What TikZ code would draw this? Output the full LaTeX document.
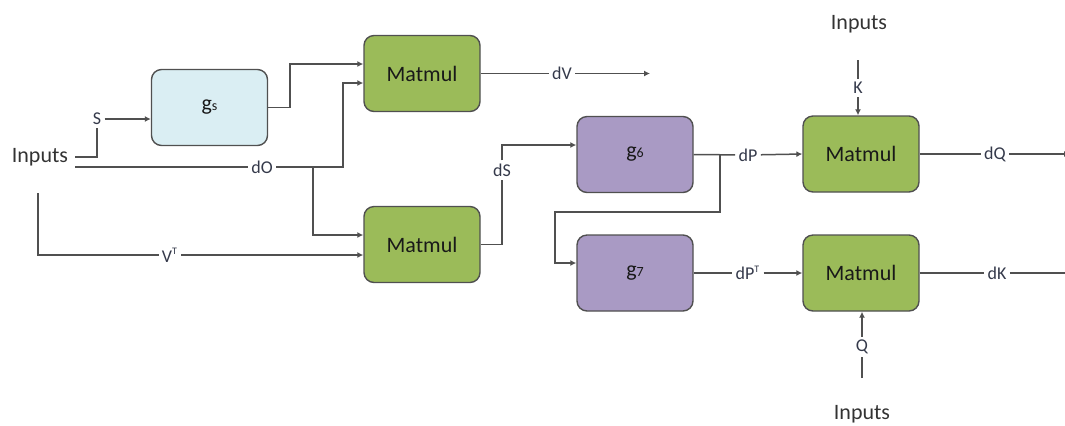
\documentclass[tikz,border=0pt]{standalone}
\usepackage{fontspec}
\setmainfont{Carlito}
\usepackage{xcolor}
\usetikzlibrary{arrows.meta, positioning}
\definecolor{mmgreen}{HTML}{9BBB59}
\definecolor{gpurple}{HTML}{A99AC4}
\definecolor{gblue}{HTML}{DAEEF3}
\definecolor{wire}{HTML}{505050}
\definecolor{lbl}{HTML}{34394A}

\begin{document}
\begin{tikzpicture}[x=0.5pt,y=-0.5pt,
op/.style={draw=wire, line width=0.7pt, rounded corners=5pt, minimum width=58pt, minimum height=38pt, font=\fontsize{11}{13}\selectfont, text=black!90},
matmul/.style={op, fill=mmgreen},
gfun/.style={op, fill=gpurple},
lab/.style={inner sep=1.5pt, text=lbl, font=\fontsize{9}{10}\selectfont},
inp/.style={inner sep=3.5pt, text=black!80, font=\fontsize{11}{13}\selectfont},
wires/.style={draw=wire, line width=0.75pt},
arr/.style={wires, -{Latex[length=3pt,width=3pt]}}]

\useasboundingbox (0,0) rectangle (1065,425);

% boxes
\node[op, fill=gblue] (g5) at (209.5,107.5) {g{\fontsize{7}{8}\selectfont s}};
\node[matmul] (mm1) at (422,73.5) {Matmul};
\node[matmul] (mm2) at (422,244.5) {Matmul};
\node[gfun] (g6) at (635,154.5) {g{\fontsize{7}{8}\selectfont 6}};
\node[gfun] (g7) at (635,273) {g{\fontsize{7}{8}\selectfont 7}};
\node[matmul] (mm3) at (861,154) {Matmul};
\node[matmul] (mm4) at (861,273) {Matmul};

% inputs
\node[inp] (inL) at (40,157) {Inputs};
\node[inp] (inT) at (859,24) {Inputs};
\node[inp] (inB) at (862,414) {Inputs};
\coordinate (inV) at (38,193);
\coordinate (cK) at (858,60);
\coordinate (cQ) at (862,378);

% labels on the wires
\node[lab] (lS) at (97,119) {S};
\node[lab] (lO) at (262,167) {dO};
\node[lab] (lVT) at (170,255) {V\textsuperscript{\fontsize{5}{6}\selectfont T}};
\node[lab] (ldV) at (562,73.5) {dV};
\node[lab] (ldS) at (502,170) {dS};
\node[lab] (ldP) at (748,155) {dP};
\node[lab] (ldPT) at (748,273) {dP\textsuperscript{\fontsize{5}{6}\selectfont T}};
\node[lab] (lK) at (858,88) {K};
\node[lab] (lQ) at (862,347) {Q};
\node[lab] (ldQ) at (995,154) {dQ};
\node[lab] (ldK) at (997,273) {dK};
\coordinate (jO) at (313,167);
\coordinate (jP) at (720,155);
\coordinate (eV) at (650,73.5);
\coordinate (eQ) at (1070,154);
\coordinate (eK) at (1075,273);

% left part
\draw[wires] (inL.east) -| (lS);
\draw[arr] (lS) -- (lS -| g5.west);
\draw[wires] ([yshift=-5pt]inL.east) -- (lO);
\draw[arr] (lO) -- (343,167) |- ([yshift=-4.75pt]mm1.west);
\draw[arr] (jO) |- ([yshift=4.75pt]mm2.west);
\draw[wires] (inV) |- (lVT);
\draw[arr] (lVT) -- ([yshift=-5.25pt]mm2.west);
\draw[arr] (g5.east) -- ++(22,0) |- ([yshift=4.75pt]mm1.west);
\draw[wires] (mm1.east) -- (ldV);
\draw[arr] (ldV) -- (eV);

% middle part
\draw[wires] (mm2.east) -| (ldS);
\draw[arr] (ldS) |- ([yshift=4.75pt]g6.west);
\draw[wires] (g6.east) -- (ldP);
\draw[arr] (ldP) -- (mm3.west);
\draw[arr] (jP) |- (555,212) |- ([yshift=5pt]g7.west);
\draw[wires] (g7.east) -- (ldPT);
\draw[arr] (ldPT) -- (mm4.west);

% right part
\draw[wires] (cK) -- (lK);
\draw[arr] (lK) -- (lK |- mm3.north);
\draw[wires] (cQ) -- (lQ);
\draw[arr] (lQ) -- (lQ |- mm4.south);
\draw[wires] (mm3.east) -- (ldQ);
\draw[arr] (ldQ) -- (eQ);
\draw[wires] (mm4.east) -- (ldK);
\draw[arr] (ldK) -- (eK);
\end{tikzpicture}
\end{document}
